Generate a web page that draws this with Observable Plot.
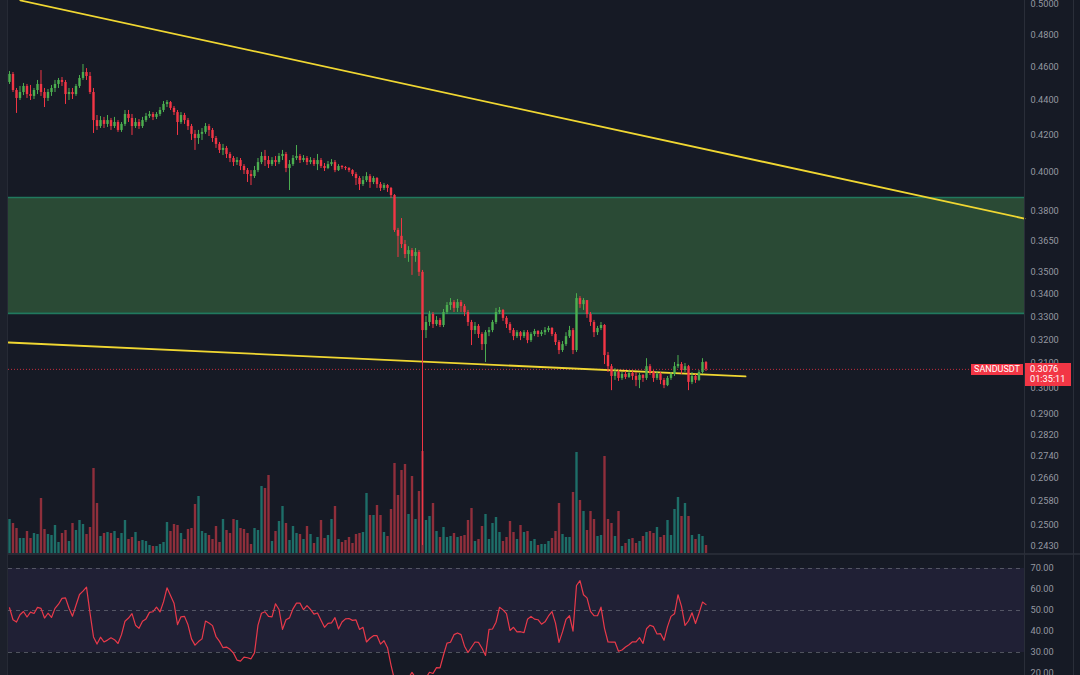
<!DOCTYPE html>
<html>
<head>
<meta charset="utf-8">
<script src="https://cdn.jsdelivr.net/npm/d3@7"></script>
<script src="https://cdn.jsdelivr.net/npm/@observablehq/plot@0.6"></script>
<style>
  html, body { margin: 0; padding: 0; background: #161a25; }
  #chart { position: relative; width: 1080px; height: 675px; overflow: hidden; background: #161a25;
           font-family: Roboto, "Noto Sans", sans-serif; }
  #chart svg { position: absolute; left: 0; }
  .deco { position: absolute; }
  .lbl { position: absolute; background: #f23645; color: #ffffff; font-size: 9.2px; font-family: Roboto, sans-serif; white-space: nowrap; }
</style>
</head>
<body>
<div id="chart"></div>
<script>
// ---------------- DATA (SANDUSDT) ----------------
const symbol = "SANDUSDT";
const countdown = "01:35:11";
const lastPrice = 0.3076;
const firstOpen = 0.4507;

const closes = [
  .4555,.4459,.4412,.4447,.4483,.4435,.4424,.4459,.4495,.4447,
  .4412,.4447,.4471,.4495,.4519,.4507,.4435,.4447,.4435,.4483,
  .4531,.4567,.4543,.4447,.4284,.4250,.4284,.4262,.4284,.4250,
  .4273,.4228,.4262,.4319,.4296,.4250,.4273,.4250,.4284,.4307,
  .4319,.4302,.4319,.4342,.4377,.4388,.4354,.4330,.4273,.4313,
  .4284,.4250,.4206,.4183,.4206,.4217,.4250,.4228,.4183,.4150,
  .4117,.4128,.4095,.4073,.4051,.4062,.4030,.4008,.3987,.3976,
  .4008,.4051,.4084,.4062,.4040,.4062,.4051,.4084,.4095,.4019,
  .4040,.4073,.4084,.4062,.4073,.4051,.4062,.4040,.4062,.4030,
  .4019,.4040,.4051,.4008,.4030,.4024,.4019,.4008,.3987,.3966,
  .3934,.3955,.3976,.3945,.3966,.3934,.3914,.3929,.3914,.3877,
  .3701,.3672,.3632,.3584,.3603,.3575,.3594,.3500,.3239,.3274,
  .3309,.3265,.3283,.3261,.3318,.3349,.3362,.3336,.3362,.3344,
  .3318,.3274,.3239,.3257,.3222,.3179,.3230,.3239,.3274,.3318,
  .3327,.3292,.3265,.3239,.3213,.3230,.3213,.3230,.3196,.3222,
  .3235,.3222,.3230,.3239,.3248,.3222,.3188,.3154,.3179,.3213,
  .3239,.3154,.3380,.3353,.3371,.3309,.3274,.3230,.3248,.3261,
  .3133,.3087,.3047,.3063,.3039,.3055,.3043,.3059,.3047,.3031,
  .3051,.3039,.3087,.3063,.3039,.3055,.3031,.3010,.3039,.3055,
  .3087,.3096,.3071,.3087,.3023,.3047,.3031,.3063,.3104,.3076
];
const highs = [
  .4573,.4567,.4471,.4483,.4501,.4495,.4489,.4471,.4519,.4579,
  .4471,.4465,.4489,.4519,.4531,.4537,.4519,.4471,.4471,.4495,
  .4549,.4616,.4591,.4567,.4471,.4313,.4307,.4302,.4313,.4296,
  .4302,.4284,.4273,.4342,.4342,.4319,.4296,.4290,.4302,.4325,
  .4336,.4330,.4330,.4359,.4394,.4400,.4394,.4365,.4342,.4330,
  .4325,.4296,.4262,.4228,.4228,.4239,.4267,.4262,.4239,.4194,
  .4161,.4150,.4139,.4106,.4084,.4078,.4073,.4040,.4019,.4008,
  .4030,.4073,.4106,.4117,.4084,.4078,.4084,.4100,.4117,.4106,
  .4062,.4089,.4144,.4095,.4089,.4084,.4078,.4073,.4095,.4073,
  .4046,.4057,.4067,.4062,.4040,.4035,.4030,.4024,.4013,.3997,
  .3976,.3976,.3997,.3987,.3976,.3971,.3945,.3940,.3934,.3919,
  .3882,.3711,.3760,.3652,.3622,.3613,.3613,.3603,.3509,.3300,
  .3323,.3318,.3300,.3292,.3331,.3362,.3380,.3371,.3376,.3371,
  .3353,.3327,.3283,.3274,.3265,.3230,.3239,.3252,.3283,.3336,
  .3340,.3331,.3300,.3274,.3248,.3239,.3235,.3239,.3239,.3230,
  .3244,.3239,.3239,.3252,.3257,.3252,.3230,.3196,.3192,.3230,
  .3257,.3248,.3402,.3389,.3380,.3371,.3318,.3283,.3257,.3274,
  .3265,.3146,.3096,.3079,.3071,.3063,.3067,.3071,.3067,.3063,
  .3059,.3055,.3120,.3096,.3071,.3067,.3063,.3039,.3047,.3063,
  .3104,.3133,.3104,.3100,.3092,.3063,.3055,.3071,.3120,.3108
];
const lows = [
  .4495,.4447,.4325,.4400,.4429,.4412,.4400,.4406,.4435,.4424,
  .4359,.4394,.4424,.4447,.4471,.4483,.4377,.4400,.4406,.4424,
  .4471,.4519,.4519,.4435,.4211,.4228,.4239,.4239,.4245,.4228,
  .4239,.4217,.4217,.4250,.4273,.4200,.4239,.4234,.4239,.4273,
  .4296,.4284,.4290,.4307,.4330,.4359,.4342,.4313,.4200,.4262,
  .4262,.4228,.4172,.4117,.4150,.4172,.4206,.4194,.4161,.4128,
  .4100,.4089,.4073,.4051,.4030,.4035,.4008,.3987,.3945,.3929,
  .3966,.3997,.4040,.4030,.4019,.4030,.4030,.4040,.4062,.3997,
  .3903,.4030,.4062,.4046,.4051,.4035,.4040,.4030,.4008,.4019,
  .4003,.4013,.4030,.3997,.4003,.4013,.4008,.3997,.3976,.3929,
  .3903,.3924,.3945,.3914,.3934,.3914,.3898,.3903,.3893,.3862,
  .3691,.3570,.3613,.3565,.3547,.3486,.3547,.3481,.2433,.3205,
  .3257,.3248,.3257,.3252,.3252,.3309,.3327,.3318,.3318,.3318,
  .3300,.3257,.3175,.3222,.3205,.3154,.3104,.3213,.3230,.3265,
  .3309,.3279,.3248,.3226,.3196,.3205,.3196,.3205,.3183,.3188,
  .3213,.3209,.3213,.3218,.3230,.3213,.3175,.3137,.3146,.3171,
  .3205,.3137,.3146,.3336,.3327,.3292,.3257,.3209,.3218,.3239,
  .3096,.3063,.2990,.3031,.3027,.3031,.3035,.3039,.3031,.3006,
  .2998,.3023,.3031,.3051,.3023,.3031,.3014,.2998,.3006,.3031,
  .3047,.3079,.3055,.3063,.2990,.3014,.3019,.3027,.3055,.3067
];
// volume, in units of 10k SAND
const volumes = [
  34,30,25,15,15,22,15,20,19,55, 24,19,18,28,11,20,23,12,30,23,
  33,29,19,26,85,50,17,20,21,20, 22,15,20,33,14,16,21,12,13,12,
  8,7,7,9,11,31,22,29,28,20,     14,24,25,49,57,22,20,18,14,27,
  11,34,23,20,34,33,25,24,20,9,  25,23,67,65,78,12,22,32,47,30,
  13,27,20,19,14,27,19,10,16,33, 15,18,34,47,14,11,13,16,10,19,
  20,21,60,38,38,48,38,21,17,44, 90,58,83,89,39,77,34,62,102,33,
  37,50,22,16,26,16,17,20,16,17, 18,33,45,12,14,27,39,14,30,36,
  21,12,16,32,21,14,28,21,22,12, 14,8,9,9,12,15,22,50,19,16,
  16,61,101,53,42,23,42,34,17,18, 97,34,30,17,42,7,10,14,15,10,
  12,17,21,22,20,26,16,18,33,18, 44,56,37,50,37,18,14,19,17,8
];
const rsiValues = [
  51.3,45.6,44.5,48,49.5,46.9,49.2,48.6,51.5,51,
  46.4,48.7,46.7,51,53,55.8,56,51.1,47.3,52.5,
  57.6,59.2,61.1,48.9,37.4,34,37.3,35,35.9,37,
  36.1,34.3,38.5,44.9,46.4,48.5,43,41.5,44.9,46,
  49.1,49.4,51.6,49.3,54.1,60.8,57.1,53.5,43.3,47,
  47.2,43.2,36.5,33.5,35.2,36.5,45,44,42.8,37.6,
  35.3,32.3,32.6,31.5,29.7,26.4,25.9,27.8,27.5,27,
  29.8,43,48.7,49.4,47.2,47,53.2,50.5,41,45.6,
  46.5,50.8,53.5,53.5,50.4,52.3,50.5,48.3,48.8,45.4,
  42,43.9,44.1,46.6,41.2,44.5,46,46.2,45.3,45.5,
  41,42,35,36.8,38,38,34,35.6,32.3,24,
  17,16,16,17,18,20.5,18,17,14,18,
  20.6,20,22.8,22.7,28.8,34.5,34.9,38.5,39.3,38.5,
  33,30,32.5,35,34.8,32,28.6,41,41.2,44.4,
  51.5,50.3,48.5,40.5,42,39.8,39.9,39.5,45.8,47.2,
  45.9,45.6,43.5,44.6,47.4,49.5,44,34.8,39.8,45.8,
  47.5,40.2,61.9,64.2,57.5,56,49.6,47.6,47.5,51.6,
  41.5,35,34.9,35,30.6,31.2,32.6,33.7,35.1,35.1,
  37.1,34.3,41.3,43,42.3,38.8,39,35.8,42.3,47.2,
  48.4,57.5,52,42.9,45,48.9,43.8,48.7,54,52.8
];
const priceTicks = [0.5, 0.48, 0.46, 0.44, 0.42, 0.40, 0.38, 0.365, 0.35, 0.34, 0.33, 0.32, 0.31, 0.30, 0.29, 0.282, 0.274, 0.266, 0.258, 0.25, 0.243];
const rsiTicks = [70, 60, 50, 40, 30, 20];
const rsiLevels = [70, 50, 30];
// demand zone (price range) and trend lines (bar index, price)
const zoneTop = 0.3867, zoneBottom = 0.3314;
const resistanceLine = [{i: 3.1, p: 0.5027}, {i: 290, p: 0.3760}];
const supportLine = [{i: -0.29, p: 0.3188}, {i: 210.3, p: 0.3047}];

// ---------------- BUILD ----------------
const UP = "#4caf50", DOWN = "#f23645";
const VOL_UP = "#1e6e68", VOL_DOWN = "#8f2f3b";
const candles = closes.map((c, i) => {
  const o = i ? closes[i - 1] : firstOpen;
  return {i, o, c, h: Math.max(highs[i], o, c), l: Math.min(lows[i], o, c),
          v: volumes[i], r: rsiValues[i], up: c >= o};
});

const W = 1080, MR = 56, MAIN_H = 553, RSI_TOP = 556, RSI_H = 119;
const xDomain = [-2.5714, 290];
const leftI = -0.29, rightI = 290;
const baseStyle = {background: "transparent", color: "#9598a1", fontSize: "9.2px", fontFamily: "Roboto, sans-serif"};
const chart = document.getElementById("chart");

// volume (own scale, behind the candles)
const volPlot = Plot.plot({
  width: W, height: MAIN_H, marginTop: 0, marginBottom: 0, marginLeft: 0, marginRight: MR,
  style: baseStyle,
  x: {domain: xDomain, axis: null},
  y: {domain: [0, 553], axis: null},
  marks: [
    Plot.ruleX(candles, {x: "i", y1: 0, y2: "v", stroke: d => d.up ? VOL_UP : VOL_DOWN, strokeWidth: 2.4})
  ]
});
volPlot.style.top = "0px";
chart.appendChild(volPlot);

// price pane
const mainPlot = Plot.plot({
  width: W, height: MAIN_H, marginTop: 0, marginBottom: 0, marginLeft: 0, marginRight: MR,
  style: baseStyle,
  x: {domain: xDomain, axis: null},
  y: {type: "log", domain: [0.24071, 0.50267], axis: "right", ticks: priceTicks,
      tickFormat: d3.format(".4f"), tickSize: 0, tickPadding: 6, label: null},
  marks: [
    Plot.rect([{x1: leftI, x2: rightI, y1: zoneBottom, y2: zoneTop}],
      {x1: "x1", x2: "x2", y1: "y1", y2: "y2", fill: "#2a4a35"}),
    Plot.ruleY([zoneTop, zoneBottom], {x1: leftI, x2: rightI, stroke: "#21795e", strokeWidth: 1.6}),
    Plot.ruleY([lastPrice], {x1: leftI, x2: rightI, stroke: "#f23645", strokeWidth: 1, strokeDasharray: "1,2", strokeOpacity: 0.8}),
    Plot.line(resistanceLine, {x: "i", y: "p", stroke: "#f0d732", strokeWidth: 1.8}),
    Plot.line(supportLine, {x: "i", y: "p", stroke: "#f0d732", strokeWidth: 1.8}),
    Plot.ruleX(candles, {x: "i", y1: "l", y2: "h", stroke: d => d.up ? UP : DOWN, strokeWidth: 1}),
    Plot.ruleX(candles, {x: "i", y1: "o", y2: "c", stroke: d => d.up ? UP : DOWN, strokeWidth: 2.4})
  ]
});
mainPlot.style.top = "0px";
chart.appendChild(mainPlot);

// RSI pane
const rsiPlot = Plot.plot({
  width: W, height: RSI_H, marginTop: 0, marginBottom: 0, marginLeft: 0, marginRight: MR,
  style: baseStyle,
  x: {domain: xDomain, axis: null},
  y: {domain: [19.048, 75.714], axis: "right", ticks: rsiTicks, tickFormat: d3.format(".2f"),
      tickSize: 0, tickPadding: 6, label: null},
  marks: [
    Plot.rect([{x1: leftI, x2: rightI, y1: 30, y2: 70}],
      {x1: "x1", x2: "x2", y1: "y1", y2: "y2", fill: "#7e57c2", fillOpacity: 0.1}),
    Plot.ruleY(rsiLevels, {x1: leftI, x2: rightI, stroke: "#787b86", strokeOpacity: 0.6, strokeDasharray: "4,4"}),
    Plot.line(candles, {x: "i", y: "r", stroke: "#e8394a", strokeWidth: 1.2, clip: true})
  ]
});
rsiPlot.style.top = RSI_TOP + "px";
chart.appendChild(rsiPlot);

// decorations: pane separators and borders
function deco(css) { const d = document.createElement("div"); d.className = "deco"; Object.assign(d.style, css); chart.appendChild(d); return d; }
deco({left: "0px", top: "553px", width: W + "px", height: "2px", background: "#262a35"});
deco({left: (W - MR) + "px", top: "0px", width: "1px", height: "675px", background: "#2a2e39"});
deco({left: "1073px", top: "0px", width: "1px", height: "675px", background: "#2a2e39"});
deco({left: "0px", top: "0px", width: "7px", height: "675px", background: "#1c202b", borderRight: "1px solid #262a35"});

// last-price labels, positioned through the price scale
const py = mainPlot.scale("y").apply(lastPrice);
const sym = document.createElement("div");
sym.className = "lbl";
Object.assign(sym.style, {left: "971px", top: (py - 4.5) + "px", width: "52px", height: "11px", lineHeight: "11px", textAlign: "center", fontSize: "9px"});
sym.textContent = symbol;
chart.appendChild(sym);
const pb = document.createElement("div");
pb.className = "lbl";
Object.assign(pb.style, {left: "1025px", top: (py - 5.5) + "px", width: "41px", height: "22px", lineHeight: "10.5px", paddingLeft: "5px", paddingTop: "0.5px"});
pb.innerHTML = "";
const l1 = document.createElement("div"); l1.textContent = d3.format(".4f")(lastPrice);
const l2 = document.createElement("div"); l2.textContent = countdown;
pb.appendChild(l1); pb.appendChild(l2);
chart.appendChild(pb);
</script>
</body>
</html>
